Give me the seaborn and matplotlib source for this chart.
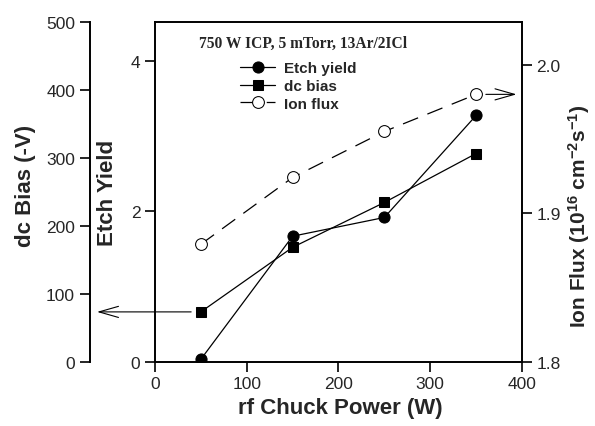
import seaborn as sns
import matplotlib.pyplot as plt

# values
power = [50, 150, 250, 350]
etch_yield = [0.03, 1.67, 1.92, 3.28]
dc_bias = [73, 168, 234, 306]
ion_flux = [1.879, 1.924, 1.955, 1.980]

x_ticks = [0, 100, 200, 300, 400]
yield_ticks = [0, 2, 4]
bias_ticks = [0, 100, 200, 300, 400, 500]
flux_ticks = [1.8, 1.9, 2.0]
flux_labels = ['1.8', '1.9', '2.0']

sns.set_style('ticks')
plt.rcParams['font.family'] = ['Liberation Sans', 'DejaVu Sans']
plt.rcParams['mathtext.default'] = 'regular'

fig = plt.figure(figsize=(5.95, 4.27), dpi=100)
ax = fig.add_axes([0.2605, 0.151, 0.6168, 0.796])
ax_bias = ax.twinx()
ax_flux = ax.twinx()

# data
sns.lineplot(x=power, y=etch_yield, ax=ax, color='black', lw=0.9, marker='o',
             markersize=8, markeredgecolor='black', label='Etch yield', legend=False)
sns.lineplot(x=power, y=dc_bias, ax=ax_bias, color='black', lw=0.9, marker='s',
             markersize=7.5, markeredgecolor='black', label='dc bias', legend=False)
sns.lineplot(x=power, y=ion_flux, ax=ax_flux, color='black', lw=0.9, marker='o',
             markersize=8.5, markerfacecolor='white', markeredgecolor='black',
             linestyle=(0, (13, 8)), label='Ion flux', legend=False)

# main axis (etch yield)
ax.set_xlim(0, 400)
ax.set_ylim(0, 4.53)
ax.set_xticks(x_ticks)
ax.set_yticks(yield_ticks)
ax.spines['right'].set_visible(False)
ax.set_xlabel('rf Chuck Power (W)', fontsize=16, fontweight='bold')
ax.set_ylabel('Etch Yield', fontsize=16, fontweight='bold')
ax.xaxis.set_label_coords(0.504, -0.105)
ax.yaxis.set_label_coords(-0.10, 0.50)

# outer left axis (dc bias)
ax_bias.set_ylim(0, 500)
ax_bias.set_yticks(bias_ticks)
ax_bias.yaxis.tick_left()
ax_bias.yaxis.set_label_position('left')
ax_bias.spines['left'].set_position(('axes', -0.178))
ax_bias.spines['left'].set_visible(True)
for s in ['top', 'bottom', 'right']:
    ax_bias.spines[s].set_visible(False)
ax_bias.set_ylabel('dc Bias (-V)', fontsize=16, fontweight='bold')
ax_bias.yaxis.set_label_coords(-0.325, 0.52)

# right axis (ion flux)
ax_flux.set_ylim(1.8, 2.029)
ax_flux.set_yticks(flux_ticks)
ax_flux.set_yticklabels(flux_labels)
for s in ['top', 'bottom', 'left']:
    ax_flux.spines[s].set_visible(False)
ax_flux.set_ylabel('Ion Flux (10$^{16}$ cm$^{-2}$s$^{-1}$)', fontsize=15,
                   fontweight='bold')
ax_flux.yaxis.set_label_coords(1.12, 0.431)

for a in [ax, ax_bias, ax_flux]:
    a.tick_params(direction='out', length=7, width=1.2, labelsize=12.5, color='black')
    for sp in a.spines.values():
        sp.set_linewidth(1.4)
        sp.set_color('black')

# arrows pointing to the matching axes
arrow = dict(arrowstyle='->,head_length=1.4,head_width=0.4', lw=0.8, color='black',
             shrinkA=7, shrinkB=0)
ax_bias.annotate('', xy=(-0.158, dc_bias[0]), xycoords=('axes fraction', 'data'),
                 xytext=(power[0], dc_bias[0]), textcoords='data', arrowprops=arrow,
                 annotation_clip=False)
ax_flux.annotate('', xy=(0.985, ion_flux[3]), xycoords=('axes fraction', 'data'),
                 xytext=(power[3], ion_flux[3]), textcoords='data', arrowprops=arrow)

# legend and condition label
ax_flux.text(0.12, 0.937, '750 W ICP, 5 mTorr, 13Ar/2ICl', transform=ax.transAxes,
             va='center', ha='left', fontsize=11.2, fontweight='bold',
             family=['Liberation Serif', 'DejaVu Serif'])
handles = ax.get_lines()[:1] + ax_bias.get_lines()[:1] + ax_flux.get_lines()[:1]
ax_flux.legend(handles, ['Etch yield', 'dc bias', 'Ion flux'], loc='upper left',
               bbox_to_anchor=(0.232, 0.884), frameon=False, borderpad=0,
               borderaxespad=0, handlelength=2.3, handletextpad=0.6,
               labelspacing=0.25, prop={'size': 11, 'weight': 'bold'})

plt.savefig('out.png', dpi=100)
plt.close()
